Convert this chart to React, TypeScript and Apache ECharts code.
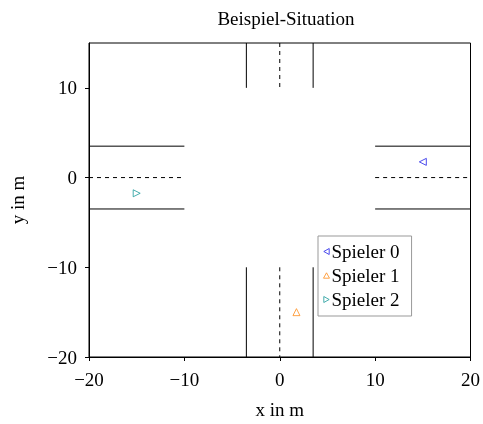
import React, { useEffect, useRef } from "react";
import * as echarts from "echarts";

const solidSegments: number[][][] = [
  [[-3.5, 15], [-3.5, 10]],
  [[3.5, 15], [3.5, 10]],
  [[-3.5, -10], [-3.5, -20]],
  [[3.5, -10], [3.5, -20]],
  [[-20, 3.5], [-10, 3.5]],
  [[-20, -3.5], [-10, -3.5]],
  [[10, 3.5], [20, 3.5]],
  [[10, -3.5], [20, -3.5]],
];
const dashedSegments: number[][][] = [
  [[0, 15], [0, 10]],
  [[0, -10], [0, -20]],
  [[-20, 0], [-10, 0]],
  [[10, 0], [20, 0]],
];
const playerNames = ["Spieler 0", "Spieler 1", "Spieler 2"];
const playerPositions: number[][] = [[15, 1.75], [1.75, -15], [-15, -1.75]];
const playerSymbols = [
  "path://M0,5 L9,0 L9,10 Z",
  "path://M5,0 L10,9 L0,9 Z",
  "path://M9,5 L0,0 L0,10 Z",
];
const playerColors = ["#2020e8", "#ff8c1a", "#1a9a9a"];

const FONT = "'Liberation Serif', 'DejaVu Serif', serif";
const FS = 19;

const fmt = (v: number) => (v < 0 ? "\u2212" + Math.abs(v) : String(v));

export default function App() {
  const ref = useRef<HTMLDivElement>(null);
  useEffect(() => {
    const chart = echarts.init(ref.current!, undefined, { renderer: "svg" });
    const series: any[] = [];
    solidSegments.forEach((seg) =>
      series.push({
        type: "line",
        data: seg,
        showSymbol: false,
        silent: true,
        lineStyle: { color: "#000", width: 1 },
      })
    );
    dashedSegments.forEach((seg) =>
      series.push({
        type: "line",
        data: seg,
        showSymbol: false,
        silent: true,
        lineStyle: { color: "#000", width: 1, type: [4, 4] },
      })
    );
    playerNames.forEach((n, i) =>
      series.push({
        type: "scatter",
        name: n,
        data: [playerPositions[i]],
        symbol: playerSymbols[i],
        symbolSize: 7,
        itemStyle: { color: "#fff", borderColor: playerColors[i], borderWidth: 1 },
      })
    );
    chart.setOption({
      animation: false,
      title: {
        text: "Beispiel-Situation",
        left: 281,
        top: 4,
        textAlign: "center",
        textStyle: { fontFamily: FONT, fontSize: FS, fontWeight: "normal", color: "#000" },
      },
      grid: {
        left: 89,
        right: 10,
        top: 43,
        bottom: 62,
        show: true,
        borderColor: "#000",
        borderWidth: 1,
      },
      legend: {
        data: playerNames,
        orient: "vertical",
        left: 318,
        top: 236,
        itemWidth: 6,
        itemHeight: 6,
        itemGap: 5,
        padding: [6, 12, 7, 5],
        borderColor: "#999",
        borderWidth: 1,
        backgroundColor: "#fff",
        itemStyle: { color: "#fff", borderWidth: 1 },
        textStyle: { fontFamily: FONT, fontSize: FS, color: "#000", padding: [0, 0, 0, -3] },
      },
      xAxis: {
        type: "value",
        min: -20,
        max: 20,
        interval: 10,
        name: "x in m",
        nameLocation: "middle",
        nameGap: 43,
        nameTextStyle: { fontFamily: FONT, fontSize: FS, color: "#000" },
        splitLine: { show: false },
        axisLine: { onZero: false, lineStyle: { color: "#000" } },
        axisTick: { length: 4, lineStyle: { color: "#000" } },
        axisLabel: { fontFamily: FONT, fontSize: FS, color: "#000", margin: 13, formatter: fmt },
      },
      yAxis: {
        type: "value",
        min: -20,
        max: 15,
        interval: 10,
        name: "y in m",
        nameLocation: "middle",
        nameGap: 62,
        nameTextStyle: { fontFamily: FONT, fontSize: FS, color: "#000" },
        splitLine: { show: false },
        axisLine: { onZero: false, lineStyle: { color: "#000" } },
        axisTick: { length: 4, lineStyle: { color: "#000" } },
        axisLabel: {
          fontFamily: FONT,
          fontSize: FS,
          color: "#000",
          margin: 12,
          showMaxLabel: false,
          formatter: fmt,
        },
      },
      series,
    });
    return () => chart.dispose();
  }, []);
  return (
    <div
      ref={ref}
      style={{ position: "fixed", left: 0, top: 0, width: 483, height: 424 }}
    />
  );
}
